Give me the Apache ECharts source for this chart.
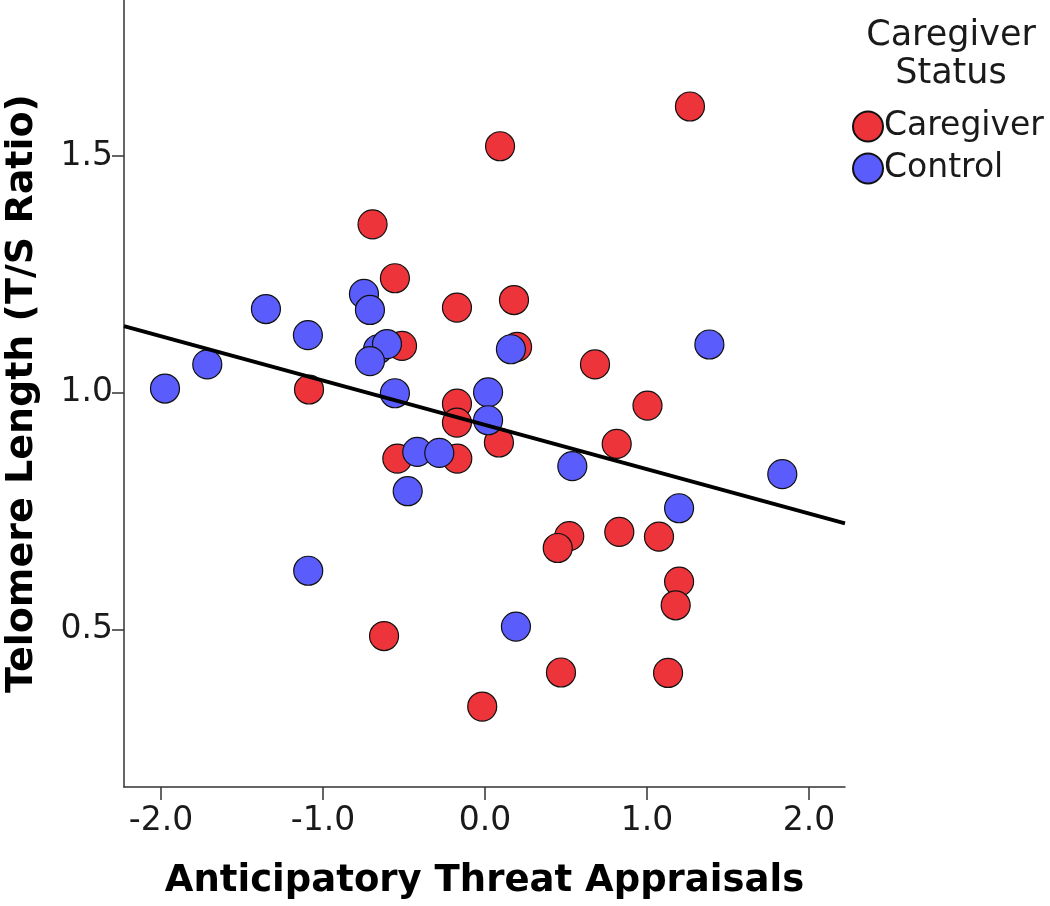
<!DOCTYPE html>
<html>
<head>
<meta charset="utf-8">
<script src="https://cdn.jsdelivr.net/npm/echarts@6/dist/echarts.min.js"></script>
<style>
  html, body { margin: 0; padding: 0; background: #fff; }
  #chart { width: 1050px; height: 906px; }
</style>
</head>
<body>
<div id="chart"></div>
<script>
// ---- Data ----
const caregiverX = [1.265, 0.093, -0.694, -0.556, -0.173, 0.179, -0.512, 0.198, 0.679, -1.086,
                    1.003, -0.173, -0.173, 0.086, 0.813, -0.541, -0.171, 0.520, 0.449, 0.829,
                    1.074, 1.198, 1.177, -0.623, 0.469, 1.130, -0.017];
const caregiverY = [1.605, 1.521, 1.356, 1.242, 1.180, 1.196, 1.099, 1.097, 1.060, 1.007,
                    0.973, 0.977, 0.937, 0.895, 0.892, 0.861, 0.861, 0.697, 0.672, 0.706,
                    0.696, 0.601, 0.551, 0.486, 0.409, 0.408, 0.337];
const controlX = [-1.975, -1.714, -1.352, -1.093, -0.747, -0.710, -0.660, -0.605, -0.710, -0.556,
                  -0.418, -0.282, -0.477, -1.091, 0.019, 0.019, 0.160, 0.539, 0.191, 1.198,
                  1.385, 1.835];
const controlY = [1.009, 1.060, 1.177, 1.122, 1.209, 1.175, 1.092, 1.103, 1.067, 0.999,
                  0.875, 0.873, 0.792, 0.624, 1.001, 0.942, 1.092, 0.845, 0.506, 0.756,
                  1.102, 0.828];
const fitX = [-2.228, 2.222];
const fitY = [1.141, 0.724];
const xTicks = [-2, -1, 0, 1, 2];
const yTicks = [0.5, 1.0, 1.5];
const seriesNames = ['Caregiver', 'Control'];
const legendTitleLines = ['Caregiver', 'Status'];
const xTitle = 'Anticipatory Threat Appraisals';
const yTitle = 'Telomere Length (T/S Ratio)';

const zip = (xs, ys) => xs.map((x, i) => [x, ys[i]]);
const FONT = 'DejaVu Sans';
const INK = '#1a1a1a';

const chart = echarts.init(document.getElementById('chart'), null, { renderer: 'canvas' });
chart.setOption({
  animation: false,
  backgroundColor: '#ffffff',
  grid: { left: 124, right: 205, top: 0, bottom: 119, containLabel: false, outerBoundsMode: 'none' },
  xAxis: {
    type: 'value',
    min: -2.228, max: 2.222,
    name: xTitle,
    nameLocation: 'middle',
    nameGap: 76,
    nameTextStyle: { fontFamily: FONT, fontWeight: 'bold', fontSize: 37, color: '#000' },
    axisLine: { show: true, onZero: false, lineStyle: { color: '#333', width: 1.5 } },
    axisTick: { show: true, length: 13, customValues: xTicks, lineStyle: { color: '#333', width: 1.5 } },
    axisLabel: { customValues: xTicks, margin: 18, fontFamily: FONT, fontSize: 33, color: INK,
                 formatter: v => v.toFixed(1) },
    splitLine: { show: false }
  },
  yAxis: {
    type: 'value',
    min: 0.167, max: 1.830,
    name: yTitle,
    nameLocation: 'middle',
    nameGap: 83,
    nameTextStyle: { fontFamily: FONT, fontWeight: 'bold', fontSize: 38, color: '#000' },
    axisLine: { show: true, onZero: false, lineStyle: { color: '#333', width: 1.5 } },
    axisTick: { show: true, length: 12, customValues: yTicks, lineStyle: { color: '#333', width: 1.5 } },
    axisLabel: { customValues: yTicks, margin: 11, fontFamily: FONT, fontSize: 33, color: INK,
                 formatter: v => v.toFixed(1) },
    splitLine: { show: false }
  },
  legend: {
    orient: 'vertical',
    left: 852, top: 110,
    padding: 0,
    itemWidth: 30, itemHeight: 30, itemGap: 9,
    icon: 'circle',
    data: seriesNames,
    textStyle: { fontFamily: FONT, fontSize: 33, color: INK, padding: [0, 0, 0, -4] }
  },
  graphic: legendTitleLines.map((t, i) => ({
    type: 'text',
    x: 951, y: 18 + i * 38,
    style: { text: t, align: 'center', verticalAlign: 'top',
             font: '35px "DejaVu Sans"', fill: INK }
  })),
  series: [
    {
      name: seriesNames[0], type: 'scatter', symbol: 'circle', symbolSize: 29,
      itemStyle: { color: '#EE343B', borderColor: '#111', borderWidth: 1.2, opacity: 1 },
      data: zip(caregiverX, caregiverY), z: 2
    },
    {
      name: seriesNames[1], type: 'scatter', symbol: 'circle', symbolSize: 29,
      itemStyle: { color: '#5A5CFB', borderColor: '#111', borderWidth: 1.2, opacity: 1 },
      data: zip(controlX, controlY), z: 3
    },
    {
      name: 'fit', type: 'line', symbol: 'none', silent: true,
      lineStyle: { color: '#000', width: 3.8 },
      data: zip(fitX, fitY), z: 5
    }
  ]
});
</script>
</body>
</html>
